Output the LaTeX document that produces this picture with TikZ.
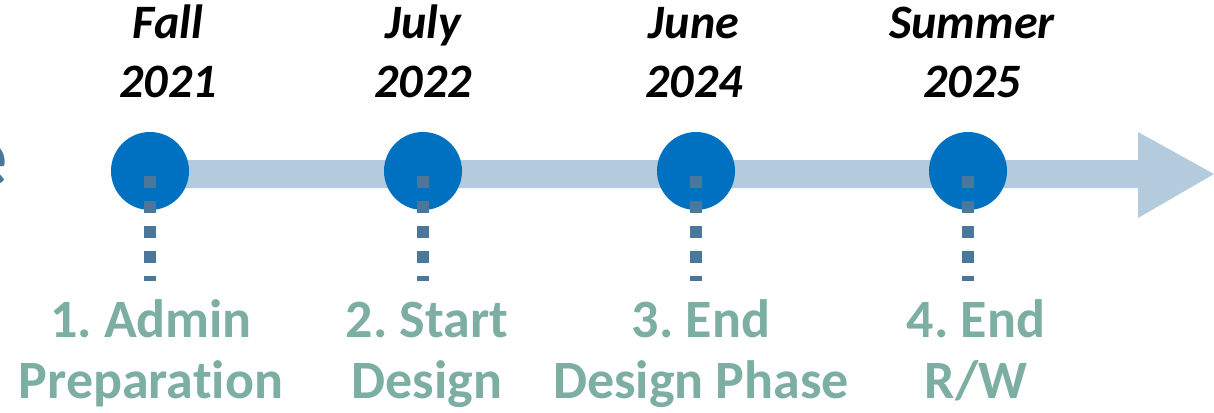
\documentclass[tikz,border=0pt]{standalone}
\usepackage{fontspec}
\setmainfont{Carlito}[Ligatures=NoCommon]
\frenchspacing
\definecolor{circ}{HTML}{0070C0}
\definecolor{barc}{HTML}{B3CBDD}
\definecolor{dotc}{HTML}{4B779B}
\definecolor{labc}{HTML}{7DAEA2}
\begin{document}
\begin{tikzpicture}[x=1pt,y=-1pt,
  dot/.style={circle,fill=circ,inner sep=0pt,minimum width=78pt},
  date/.style={font=\fontsize{48}{59}\selectfont\bfseries\itshape,align=center,anchor=base,inner sep=0pt},
  lab/.style={font=\fontsize{54}{61}\selectfont\bfseries,text=labc,align=center,anchor=base,inner sep=0pt},
  drop/.style={draw=dotc,line width=12pt,dash pattern=on 12pt off 13pt}]
\useasboundingbox (0,0) rectangle (1214,412);
% main arrow
\fill[barc] (150,160) -- (1138,160) -- (1138,132) -- (1214,174) -- (1138,218) -- (1138,188) -- (150,188) -- cycle;
% partial title letter
\node[font=\fontsize{88}{88}\selectfont\bfseries,text=dotc,anchor=base east,inner sep=0pt] (title) at (8,186) {e};
% milestones
\node[dot] (m1) at (150,171) {};
\node[dot] (m2) at (423,171) {};
\node[dot] (m3) at (696,171) {};
\node[dot] (m4) at (968,171) {};
\coordinate (e1) at (150,281);
\coordinate (e2) at (423,281);
\coordinate (e3) at (696,281);
\coordinate (e4) at (968,281);
\foreach \i in {1,2,3,4} {
  \draw[drop] ([yshift=-5pt]m\i.center) -- (e\i);
}
% dates (base = last line)
\node[date] (d1) at (168,97) {Fall\\2021};
\node[date] (d2) at (423,97) {July\\2022};
\node[date] (d3) at (694,97) {June\\2024};
\node[date] (d4) at (972,97) {Summer\\2025};
% labels
\node[lab] (l1) at (151,398) {1. Admin\\Preparation};
\node[lab] (l2) at (427,398) {2. Start\\Design};
\node[lab] (l3) at (701,398) {3. End\\Design Phase};
\node[lab] (l4) at (976,398) {4. End\\R/W};
\end{tikzpicture}
\end{document}
